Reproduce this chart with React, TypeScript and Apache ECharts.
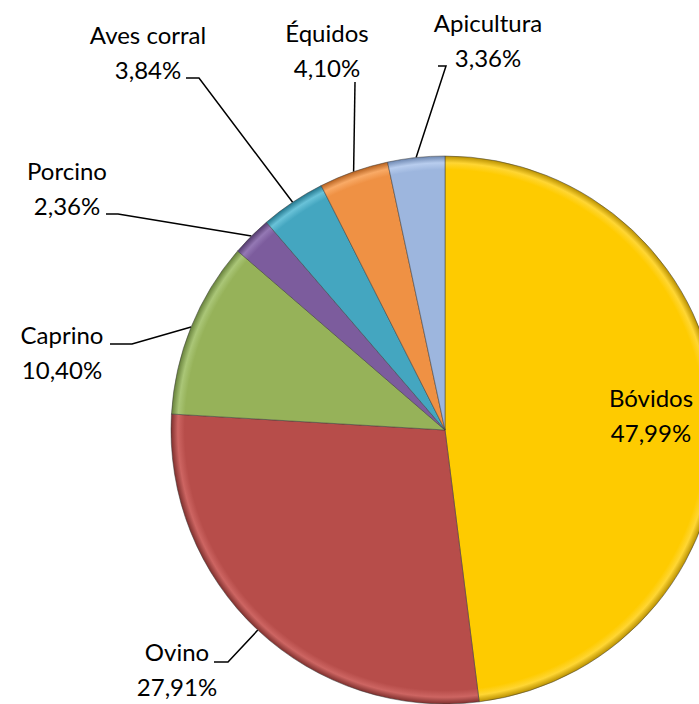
import React, { useEffect, useRef } from "react";
import * as echarts from "echarts";

const categories = ["Bóvidos", "Ovino", "Caprino", "Porcino", "Aves corral", "Équidos", "Apicultura"];
const values = [47.99, 27.91, 10.4, 2.36, 3.84, 4.1, 3.36];
const colors = ["#FECB00", "#B74D4A", "#96B259", "#7C5C9D", "#44A6C0", "#EF9144", "#9DB6DE"];
const darker = ["#B88F00", "#7E2F2D", "#66803A", "#52396D", "#21758C", "#B5601E", "#6C86B0"];
const lighter = ["#FFD633", "#CD6562", "#AAC677", "#9478B4", "#69C2D8", "#F9AA66", "#B8CDEE"];

// label block centres and leader-line bends (layout only)
const labelPos: Record<string, number[]> = {
  "Bóvidos": [651, 415],
  "Ovino": [177, 669],
  "Caprino": [62, 352],
  "Porcino": [67, 188],
  "Aves corral": [148, 52],
  "Équidos": [327, 50],
  "Apicultura": [488, 40],
};
const lineEnds: Record<string, number[][]> = {
  "Ovino": [[228, 662], [214, 662]],
  "Caprino": [[132, 344], [110, 344]],
  "Porcino": [[118, 214], [106, 214]],
  "Aves corral": [[199, 78], [186, 78]],
  "Équidos": [[355, 82], [355, 82]],
  "Apicultura": [[446, 66], [438, 66]],
};

export default function App() {
  const ref = useRef<HTMLDivElement>(null);
  useEffect(() => {
    document.body.style.margin = "0";
    const chart = echarts.init(ref.current!, undefined, { renderer: "svg" });
    const cx = 445, cy = 430, r = 274;
    const data = categories.map((name, i) => ({
      name,
      value: values[i],
      itemStyle: {
        color: new echarts.graphic.RadialGradient(cx, cy, r, [
          { offset: 0, color: colors[i] },
          { offset: 0.95, color: colors[i] },
          { offset: 0.975, color: lighter[i] },
          { offset: 1, color: darker[i] },
        ], true),
      },
      label: name === "Bóvidos" ? { position: "inside" } : undefined,
      labelLine: name === "Bóvidos" ? { show: false } : undefined,
    }));
    chart.setOption({
      animation: false,
      series: [
        {
          type: "pie",
          center: [cx, cy],
          radius: r,
          startAngle: 90,
          clockwise: true,
          data,
          itemStyle: { borderColor: "rgba(60,60,60,0.5)", borderWidth: 1 },
          label: {
            show: true,
            position: "outside",
            color: "#000",
            fontFamily: "Lato",
            fontSize: 24,
            lineHeight: 35,
            align: "center",
            formatter: (p: any) => `${p.name}\n${p.value.toFixed(2).replace(".", ",")}%`,
          },
          labelLine: { show: true, lineStyle: { color: "#000", width: 1.5 } },
          labelLayout: (p: any) => {
            const name = categories[p.dataIndex];
            const pos = labelPos[name];
            const res: any = { x: pos[0], y: pos[1], align: "center", verticalAlign: "middle" };
            const ends = lineEnds[name];
            if (ends && p.labelLinePoints) {
              res.labelLinePoints = [p.labelLinePoints[0], ends[0], ends[1]];
            }
            return res;
          },
        },
      ],
    });
    return () => chart.dispose();
  }, []);
  return <div ref={ref} style={{ width: 699, height: 704 }} />;
}
